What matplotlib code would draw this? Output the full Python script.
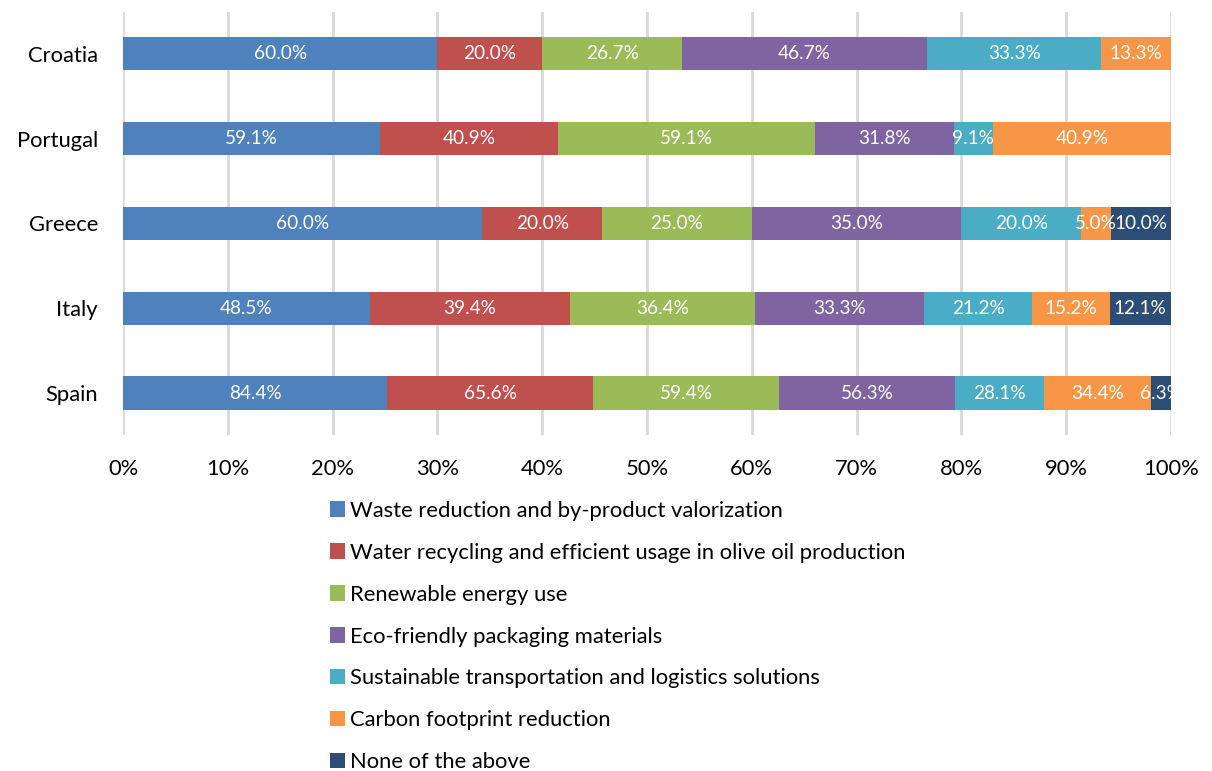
import matplotlib.pyplot as plt
import numpy as np

countries = ["Spain", "Italy", "Greece", "Portugal", "Croatia"]
categories = ["Waste reduction and by-product valorization",
              "Water recycling and efficient usage in olive oil production",
              "Renewable energy use",
              "Eco-friendly packaging materials",
              "Sustainable transportation and logistics solutions",
              "Carbon footprint reduction",
              "None of the above"]
# raw percentages per country (order: Spain, Italy, Greece, Portugal, Croatia)
waste = [84.4, 48.5, 60.0, 59.1, 60.0]
water = [65.6, 39.4, 20.0, 40.9, 20.0]
renewable = [59.4, 36.4, 25.0, 59.1, 26.7]
packaging = [56.3, 33.3, 35.0, 31.8, 46.7]
transport = [28.1, 21.2, 20.0, 9.1, 33.3]
carbon = [34.4, 15.2, 5.0, 40.9, 13.3]
none_above = [6.3, 12.1, 10.0, 0.0, 0.0]

colors = ['#4F81BD', '#C0504D', '#9BBB59', '#8064A2', '#4BACC6', '#F79646', '#2C4D75']

plt.rcParams['font.family'] = ['Lato', 'DejaVu Sans']

series = np.array([waste, water, renewable, packaging, transport, carbon, none_above])
totals = series.sum(axis=0)
shares = series / totals

fig = plt.figure(figsize=(12.12, 7.71), dpi=100)
ax = fig.add_axes([0.1015, 0.4353, 0.8647, 0.5497])

y = np.arange(len(countries))
left = np.zeros(len(countries))
for i, cat in enumerate(categories):
    ax.barh(y, shares[i], left=left, height=0.39, color=colors[i], label=cat, zorder=3)
    for j in range(len(countries)):
        if series[i, j] > 0:
            ax.text(left[j] + shares[i, j] / 2, y[j], f'{series[i, j]:.1f}%',
                    ha='center', va='center', color='white', fontsize=13.7, zorder=4)
    left += shares[i]

ax.set_xlim(0, 1)
ax.set_ylim(-0.5, 4.5)
ax.set_xticks(np.arange(0, 1.01, 0.1))
ax.set_xticklabels([f'{int(round(v * 100))}%' for v in np.arange(0, 1.01, 0.1)])
ax.set_yticks(y)
ax.set_yticklabels(countries)
ax.tick_params(axis='both', length=0, labelsize=15.8, colors='#000000')
ax.tick_params(axis='x', pad=17)
ax.tick_params(axis='y', pad=18)
ax.grid(axis='x', color='#D9D9D9', linewidth=2, zorder=0)
for s in ax.spines.values():
    s.set_visible(False)

fig.legend(loc='upper left', bbox_to_anchor=(0.265, 0.362), ncol=1, frameon=False,
           fontsize=15.8, handlelength=0.7, handleheight=0.7, handletextpad=0.2,
           labelspacing=1.0, borderaxespad=0)

plt.savefig('out.png', dpi=100)
